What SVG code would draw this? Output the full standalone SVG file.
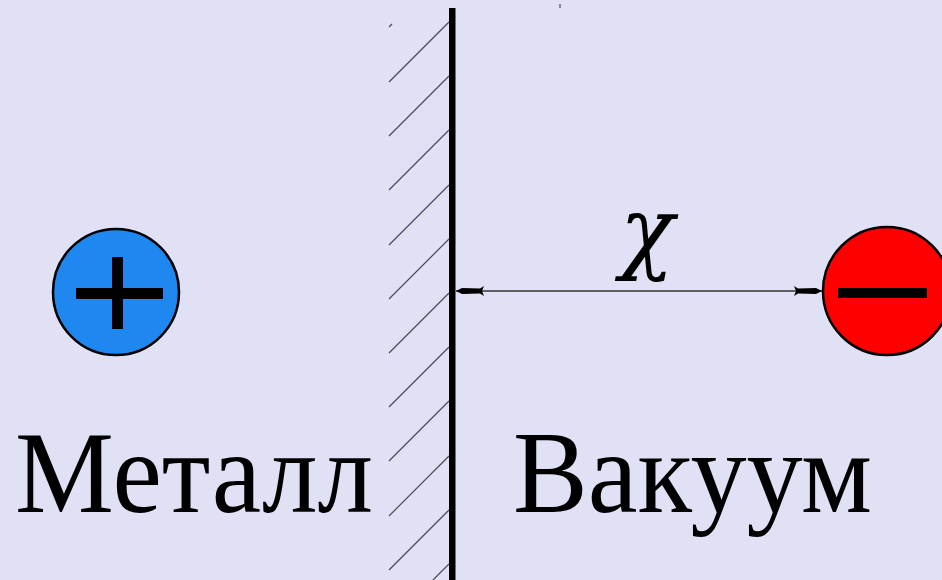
<svg xmlns="http://www.w3.org/2000/svg" width="942" height="580" viewBox="0 0 942 580">
<style>
.hatch{stroke:#4a4a5a;stroke-width:1.2;fill:none}
.lbl{font-family:"Liberation Serif","Times New Roman",serif;fill:#000}
.dim{stroke:#333;stroke-width:1.3;fill:none}
</style>
<defs>
<marker id="ah" viewBox="0 0 30 12" refX="30" refY="6" markerWidth="30" markerHeight="12" markerUnits="userSpaceOnUse" orient="auto-start-reverse">
<path d="M30,6 L24,3 L6,3.5 L2,1 L4,6 L2,11 L6,8.5 L24,9 Z" fill="#000"/>
</marker>
</defs>
<rect x="0" y="0" width="942" height="580" fill="#E1E1F5"/>
<g id="wall">
<g class="hatch">
<line x1="449" y1="22" x2="389" y2="82"/>
<line x1="449" y1="76" x2="389" y2="136"/>
<line x1="449" y1="130" x2="389" y2="190"/>
<line x1="449" y1="185" x2="389" y2="245"/>
<line x1="449" y1="239" x2="389" y2="299"/>
<line x1="449" y1="293" x2="389" y2="353"/>
<line x1="449" y1="347" x2="389" y2="407"/>
<line x1="449" y1="401" x2="389" y2="461"/>
<line x1="449" y1="456" x2="389" y2="516"/>
<line x1="449" y1="510" x2="389" y2="570"/>
<line x1="449" y1="564" x2="433" y2="580"/>
<line x1="389" y1="27" x2="392" y2="24"/>
<line x1="560" y1="4" x2="560" y2="8"/>
</g>
<rect x="449" y="8" width="6.5" height="572" fill="#000"/>
</g>
<g id="connectors">
<line class="dim" x1="456" y1="291" x2="822" y2="291" marker-start="url(#ah)" marker-end="url(#ah)"/>
</g>
<g id="chi">
<text x="647" y="262" font-size="92" font-style="italic" text-anchor="middle" font-family="'DejaVu Serif',serif" fill="#000" textLength="54" lengthAdjust="spacingAndGlyphs">χ</text>
</g>
<g id="positive">
<circle cx="116" cy="292" r="63" fill="#1E88F0" stroke="#000" stroke-width="2.5"/>
<rect x="76" y="288" width="87" height="11" fill="#000"/>
<rect x="112" y="257" width="11" height="72" fill="#000"/>
</g>
<g id="negative">
<circle cx="887" cy="291" r="64" fill="#FF0000" stroke="#000" stroke-width="2.5"/>
<rect x="838" y="288" width="89" height="10" fill="#000"/>
</g>
<g id="metal">
<text class="lbl" x="15" y="512" font-size="116" textLength="358" lengthAdjust="spacingAndGlyphs">Металл</text>
</g>
<g id="vacuum">
<text class="lbl" x="513" y="512" font-size="116" textLength="359" lengthAdjust="spacingAndGlyphs">Вакуум</text>
</g>
</svg>
